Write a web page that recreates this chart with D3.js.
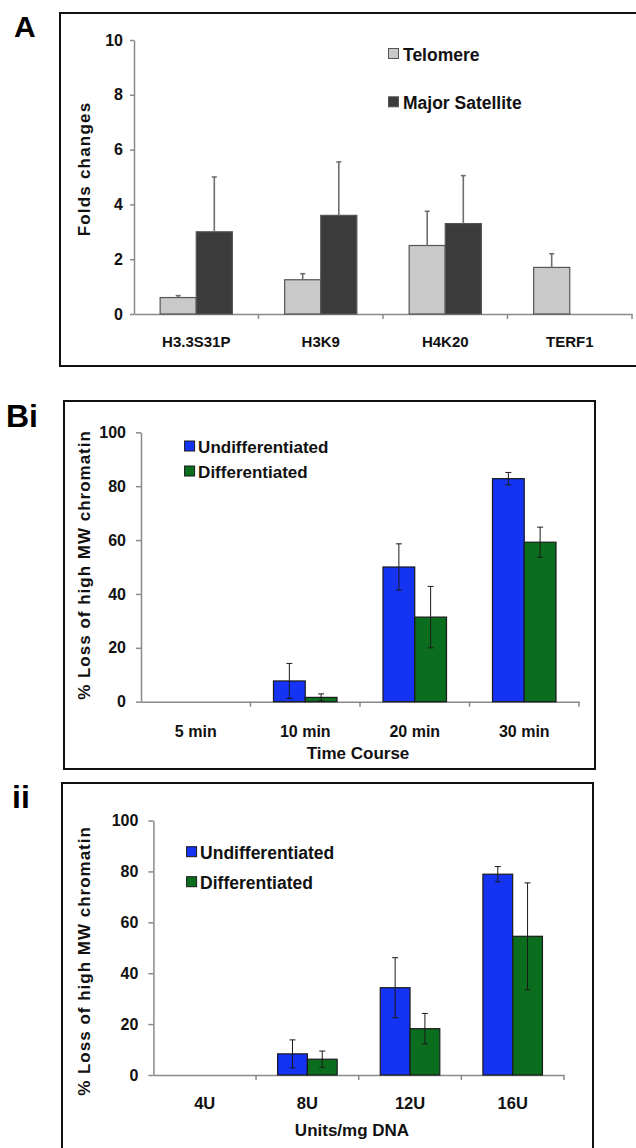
<!DOCTYPE html>
<html>
<head>
<meta charset="utf-8">
<script src="https://cdn.jsdelivr.net/npm/d3@7"></script>
<style>
  body { margin: 0; background: #fff; }
  svg { display: block; }
</style>
</head>
<body>
<svg id="viz"></svg>
<script>
// Global Variables
const width = 636;
const height = 1148;
const FONT = "'Liberation Sans', Arial, Helvetica, sans-serif";
const svg = d3.select("#viz").attr("width", width).attr("height", height);

// Panel A data
const catsA = ["H3.3S31P", "H3K9", "H4K20", "TERF1"];
const telomere = [0.6, 1.25, 2.5, 1.7];
const telomereErr = [0.07, 0.22, 1.25, 0.5];
const majorSat = [3.0, 3.6, 3.3, null];
const majorSatErr = [2.0, 1.95, 1.75, null];
const ticksA = [0, 2, 4, 6, 8, 10];

// Panel Bi data
const catsTime = ["5 min", "10 min", "20 min", "30 min"];
const undiffTime = [0, 7.7, 50, 82.8];
const undiffTimeErr = [0, 6.5, 8.6, 2.3];
const diffTime = [0, 1.6, 31.4, 59.2];
const diffTimeErr = [0, 1.3, 11.4, 5.6];

// Panel ii data
const catsUnits = ["4U", "8U", "12U", "16U"];
const undiffUnits = [0, 8.3, 34.3, 78.9];
const undiffUnitsErr = [0, 5.5, 11.8, 3];
const diffUnits = [0, 6.2, 18.2, 54.5];
const diffUnitsErr = [0, 3.2, 6, 21];
const ticksB = [0, 20, 40, 60, 80, 100];

function drawPanel(p) {
  const g = svg.append("g");

  // frame + panel tag
  g.append("rect")
    .attr("x", p.box[0]).attr("y", p.box[1])
    .attr("width", p.box[2] - p.box[0]).attr("height", p.box[3] - p.box[1])
    .attr("fill", "none").attr("stroke", "#111").attr("stroke-width", 2);
  g.append("text")
    .attr("x", p.tag[1]).attr("y", p.tag[2])
    .attr("font-family", FONT).attr("font-weight", "bold").attr("font-size", p.tag[3])
    .text(p.tag[0]);

  const x = d3.scaleBand().domain(p.cats).range(p.xRange);
  const bw = x.bandwidth();
  const x1 = d3.scaleBand().domain(d3.range(p.series.length)).range([bw * 0.21, bw * 0.79]);
  const y = d3.scaleLinear().domain([0, p.yMax]).range(p.yRange);

  // y axis
  const ya = g.append("g")
    .attr("transform", `translate(${p.xRange[0]},0)`)
    .call(d3.axisLeft(y).tickValues(p.ticks).tickSize(p.tickLen).tickPadding(p.tickPad).tickSizeOuter(0));
  ya.attr("font-family", FONT).attr("font-size", p.tickFont).attr("font-weight", "bold");
  ya.select(".domain").attr("stroke", "#8a8a8a").attr("stroke-width", 1.5);
  ya.selectAll(".tick line").attr("stroke", "#8a8a8a").attr("stroke-width", 1.5);
  ya.selectAll(".tick text").attr("fill", "#111");

  // x axis: labels at band centers, ticks at band edges
  const xa = g.append("g")
    .attr("transform", `translate(0,${y(0)})`)
    .call(d3.axisBottom(x).tickSize(0).tickPadding(p.xPad).tickSizeOuter(0));
  xa.attr("font-family", FONT).attr("font-size", p.catFont).attr("font-weight", "bold");
  xa.select(".domain").attr("stroke", "#8a8a8a").attr("stroke-width", 1.5);
  xa.selectAll(".tick text").attr("fill", "#111");
  g.append("g").selectAll("line")
    .data(p.cats)
    .join("line")
    .attr("x1", d => x(d) + bw).attr("x2", d => x(d) + bw)
    .attr("y1", y(0)).attr("y2", y(0) + 5)
    .attr("stroke", "#8a8a8a").attr("stroke-width", 1.5);

  // bars + error bars
  p.series.forEach((s, i) => {
    const rows = p.cats.map((c, j) => ({ c, v: s.values[j], e: s.errs[j] })).filter(d => d.v > 0);
    const cx = d => x(d.c) + x1(i) + x1.bandwidth() / 2;

    g.append("g").selectAll("rect")
      .data(rows)
      .join("rect")
      .attr("x", d => x(d.c) + x1(i))
      .attr("y", d => y(d.v))
      .attr("width", x1.bandwidth())
      .attr("height", d => y(0) - y(d.v))
      .attr("fill", s.color)
      .attr("stroke", p.barStroke)
      .attr("stroke-width", 1.2);

    const eg = g.append("g").attr("stroke", p.errColor).attr("stroke-width", p.errWidth);
    const lo = d => p.oneSided ? y(d.v) : y(d.v - d.e);
    eg.selectAll(".stem").data(rows).join("line").attr("class", "stem")
      .attr("x1", cx).attr("x2", cx)
      .attr("y1", lo).attr("y2", d => y(d.v + d.e));
    eg.selectAll(".capTop").data(rows).join("line").attr("class", "capTop")
      .attr("x1", d => cx(d) - p.cap).attr("x2", d => cx(d) + p.cap)
      .attr("y1", d => y(d.v + d.e)).attr("y2", d => y(d.v + d.e));
    if (!p.oneSided) {
      eg.selectAll(".capBot").data(rows).join("line").attr("class", "capBot")
        .attr("x1", d => cx(d) - p.cap).attr("x2", d => cx(d) + p.cap)
        .attr("y1", lo).attr("y2", lo);
    }
  });

  // legend
  const lg = g.append("g").attr("transform", `translate(${p.legend[0]},${p.legend[1]})`);
  p.series.forEach((s, i) => {
    lg.append("rect")
      .attr("x", 0).attr("y", i * p.legend[2])
      .attr("width", 10).attr("height", 10)
      .attr("fill", s.color).attr("stroke", p.barStroke).attr("stroke-width", 1);
    lg.append("text")
      .attr("x", p.legend[3]).attr("y", i * p.legend[2] + 12)
      .attr("font-family", FONT).attr("font-weight", "bold").attr("font-size", p.legendFont)
      .attr("fill", "#111")
      .text(s.name);
  });

  // axis titles
  g.append("text")
    .attr("transform", `translate(${p.yTitle[1]},${p.yTitle[2]}) rotate(-90)`)
    .attr("text-anchor", "middle").attr("dominant-baseline", "central")
    .attr("font-family", FONT).attr("font-weight", "bold").attr("font-size", 17)
    .attr("letter-spacing", p.yTitle[3])
    .attr("fill", "#111")
    .text(p.yTitle[0]);
  if (p.xTitle) {
    g.append("text")
      .attr("x", p.xTitle[1]).attr("y", p.xTitle[2])
      .attr("text-anchor", "middle")
      .attr("font-family", FONT).attr("font-weight", "bold").attr("font-size", 17)
      .attr("fill", "#111")
      .text(p.xTitle[0]);
  }
}

drawPanel({
  box: [60, 13, 645, 366],
  tag: ["A", 14, 37, 30],
  cats: catsA,
  xRange: [134, 632],
  yRange: [314, 40],
  yMax: 10,
  ticks: ticksA,
  tickLen: 4, tickPad: 7, tickFont: 16,
  xPad: 22, catFont: 15,
  series: [
    { name: "Telomere", values: telomere, errs: telomereErr, color: "#c9c9c9" },
    { name: "Major Satellite", values: majorSat, errs: majorSatErr, color: "#3b3b3b" }
  ],
  barStroke: "#555",
  errColor: "#6e6e6e", errWidth: 1.6, cap: 2.5, oneSided: true,
  legend: [388.5, 48.5, 48.3, 14.5], legendFont: 17.5,
  yTitle: ["Folds changes", 84, 169, 1.2]
});

drawPanel({
  box: [64, 401, 595, 769],
  tag: ["Bi", 6, 427, 32],
  cats: catsTime,
  xRange: [141, 579],
  yRange: [701.7, 432.3],
  yMax: 100,
  ticks: ticksB,
  tickLen: 5, tickPad: 10, tickFont: 16,
  xPad: 23.5, catFont: 16,
  series: [
    { name: "Undifferentiated", values: undiffTime, errs: undiffTimeErr, color: "#1433f2" },
    { name: "Differentiated", values: diffTime, errs: diffTimeErr, color: "#0b6e1f" }
  ],
  barStroke: "#1a1a1a",
  errColor: "#1a1a1a", errWidth: 1, cap: 3, oneSided: false,
  legend: [184.6, 441, 25, 13.5], legendFont: 17,
  yTitle: ["% Loss of high MW chromatin", 84, 565, 1],
  xTitle: ["Time Course", 358, 759]
});

drawPanel({
  box: [62, 783, 593, 1152],
  tag: ["ii", 12, 808, 32],
  cats: catsUnits,
  xRange: [153.4, 564],
  yRange: [1075, 820.5],
  yMax: 100,
  ticks: ticksB,
  tickLen: 5, tickPad: 10, tickFont: 16,
  xPad: 22.5, catFont: 16.5,
  series: [
    { name: "Undifferentiated", values: undiffUnits, errs: undiffUnitsErr, color: "#1433f2" },
    { name: "Differentiated", values: diffUnits, errs: diffUnitsErr, color: "#0b6e1f" }
  ],
  barStroke: "#1a1a1a",
  errColor: "#1a1a1a", errWidth: 1, cap: 3, oneSided: false,
  legend: [186.6, 846.7, 30, 13.5], legendFont: 17.5,
  yTitle: ["% Loss of high MW chromatin", 84, 961, 1],
  xTitle: ["Units/mg DNA", 352, 1136]
});
</script>
</body>
</html>
